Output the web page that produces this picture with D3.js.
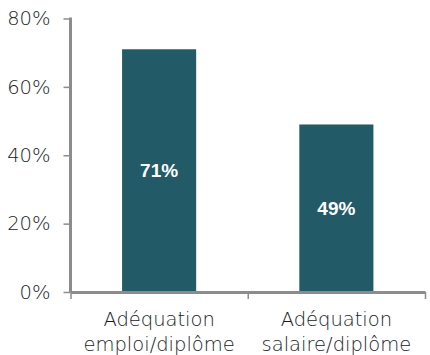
<!DOCTYPE html>
<html>
<head>
<meta charset="utf-8">
<script src="https://cdn.jsdelivr.net/npm/d3@7"></script>
<style>
  html, body { margin: 0; padding: 0; background: #fff; }
  svg { display: block; }
</style>
</head>
<body>
<svg id="chart" width="430" height="355"></svg>
<script>
const categories = [["Adéquation", "emploi/diplôme"], ["Adéquation", "salaire/diplôme"]];
const values = [71, 49];
const valueLabels = ["71%", "49%"];
const yTicks = [0, 20, 40, 60, 80];
const yTickLabels = ["0%", "20%", "40%", "60%", "80%"];

const svg = d3.select("#chart");
const mLeft = 70.5, mRight = 425, mTop = 18.5, mBottom = 292;
const keys = categories.map((c, i) => i);

const x = d3.scaleBand().domain(keys).range([mLeft, mRight]).padding(0);
const y = d3.scaleLinear().domain([0, 80]).range([mBottom, mTop]);
const barFrac = 0.418;

const axisColor = "#8c8c8c";
const textColor = "#1a1a26";
const labelFont = "'DejaVu Sans', sans-serif";

// bars
svg.selectAll("rect.bar").data(values).enter().append("rect")
  .attr("class", "bar")
  .attr("x", (d, i) => x(i) + x.bandwidth() * (1 - barFrac) / 2)
  .attr("width", x.bandwidth() * barFrac)
  .attr("y", d => y(d))
  .attr("height", d => y(0) - y(d))
  .attr("fill", "#235a68");

// value labels
svg.selectAll("text.val").data(values).enter().append("text")
  .attr("class", "val")
  .attr("x", (d, i) => x(i) + x.bandwidth() / 2)
  .attr("y", d => (y(d) + y(0)) / 2)
  .attr("dy", "0.36em")
  .attr("text-anchor", "middle")
  .attr("fill", "#fff")
  .attr("font-family", "'Liberation Sans', Arial, sans-serif")
  .attr("font-weight", 700)
  .attr("font-size", "19px")
  .text((d, i) => valueLabels[i]);

// y axis
const yAxis = d3.axisLeft(y).tickValues(yTicks).tickFormat((d, i) => yTickLabels[i]).tickSize(7).tickPadding(13);
const gy = svg.append("g").attr("transform", `translate(${mLeft},0)`).call(yAxis);
gy.select(".domain").attr("stroke", axisColor).attr("stroke-width", 3).attr("d", `M0,${mTop - 1}H0V${mBottom}`);
gy.selectAll(".tick line").attr("stroke", axisColor).attr("stroke-width", 1.5);
gy.selectAll(".tick text").attr("fill", textColor).attr("font-size", "19.5px").attr("font-weight", 200)
  .attr("font-family", labelFont);

// x axis
const xb = d3.scaleLinear().domain([0, 2]).range([mLeft, mRight]);
const xAxis = d3.axisBottom(xb).tickValues([0, 1, 2]).tickFormat("").tickSize(7).tickSizeOuter(0);
const gx = svg.append("g").attr("transform", `translate(0,${mBottom})`).call(xAxis);
gx.select(".domain").attr("stroke", axisColor).attr("stroke-width", 3);
gx.selectAll(".tick line").attr("stroke", axisColor).attr("stroke-width", 1.5);

// category labels
categories.forEach((lines, i) => {
  const cx = x(i) + x.bandwidth() / 2;
  const t = svg.append("text")
    .attr("x", cx)
    .attr("y", 326)
    .attr("text-anchor", "middle")
    .attr("fill", textColor)
    .attr("font-family", labelFont)
    .attr("font-size", "19.5px")
    .attr("font-weight", 200);
  lines.forEach((l, j) => {
    t.append("tspan").attr("x", cx).attr("dy", j === 0 ? 0 : 25).text(l);
  });
});
</script>
</body>
</html>
